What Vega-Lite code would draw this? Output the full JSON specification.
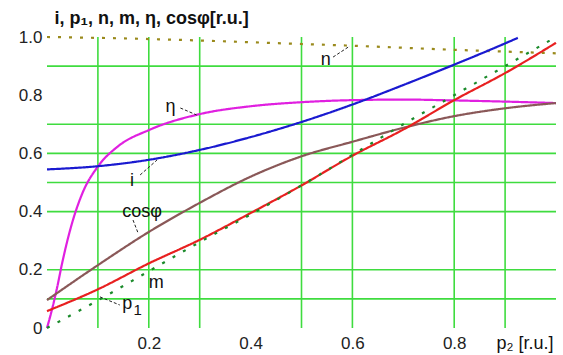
{
  "$schema": "https://vega.github.io/schema/vega-lite/v6.json",
  "width": 509,
  "height": 291,
  "autosize": "none",
  "padding": {"left": 47, "top": 37, "right": 7, "bottom": 27},
  "background": "white",
  "config": {"view": {"stroke": null}, "font": "Liberation Sans"},
  "datasets": {
    "gridv": [{"v": 0.1}, {"v": 0.2}, {"v": 0.3}, {"v": 0.5}, {"v": 0.6}, {"v": 0.8}, {"v": 0.9}],
    "gridh": [{"v": 0.1}, {"v": 0.2}, {"v": 0.4}, {"v": 0.5}, {"v": 0.6}, {"v": 0.7}, {"v": 0.9}],
    "curves": [
      {"s": "n", "x": 0, "y": 1.0}, {"s": "n", "x": 0.1, "y": 0.997}, {"s": "n", "x": 0.2, "y": 0.993}, {"s": "n", "x": 0.3, "y": 0.988}, {"s": "n", "x": 0.4, "y": 0.982}, {"s": "n", "x": 0.5, "y": 0.976}, {"s": "n", "x": 0.6, "y": 0.97}, {"s": "n", "x": 0.7, "y": 0.963}, {"s": "n", "x": 0.8, "y": 0.956}, {"s": "n", "x": 0.9, "y": 0.95}, {"s": "n", "x": 1.0, "y": 0.944},
      {"s": "eta", "x": 0, "y": 0.0}, {"s": "eta", "x": 0.01, "y": 0.065}, {"s": "eta", "x": 0.02, "y": 0.14}, {"s": "eta", "x": 0.03, "y": 0.225}, {"s": "eta", "x": 0.04, "y": 0.3}, {"s": "eta", "x": 0.05, "y": 0.365}, {"s": "eta", "x": 0.07, "y": 0.465}, {"s": "eta", "x": 0.1, "y": 0.555}, {"s": "eta", "x": 0.14, "y": 0.625}, {"s": "eta", "x": 0.2, "y": 0.68}, {"s": "eta", "x": 0.3, "y": 0.735}, {"s": "eta", "x": 0.4, "y": 0.762}, {"s": "eta", "x": 0.5, "y": 0.776}, {"s": "eta", "x": 0.6, "y": 0.783}, {"s": "eta", "x": 0.7, "y": 0.785}, {"s": "eta", "x": 0.8, "y": 0.782}, {"s": "eta", "x": 0.9, "y": 0.778}, {"s": "eta", "x": 1.0, "y": 0.773},
      {"s": "i", "x": 0, "y": 0.545}, {"s": "i", "x": 0.1, "y": 0.556}, {"s": "i", "x": 0.2, "y": 0.578}, {"s": "i", "x": 0.3, "y": 0.612}, {"s": "i", "x": 0.4, "y": 0.656}, {"s": "i", "x": 0.5, "y": 0.708}, {"s": "i", "x": 0.6, "y": 0.768}, {"s": "i", "x": 0.7, "y": 0.835}, {"s": "i", "x": 0.8, "y": 0.905}, {"s": "i", "x": 0.9, "y": 0.978}, {"s": "i", "x": 0.925, "y": 0.997},
      {"s": "cos", "x": 0, "y": 0.096}, {"s": "cos", "x": 0.1, "y": 0.216}, {"s": "cos", "x": 0.2, "y": 0.33}, {"s": "cos", "x": 0.3, "y": 0.43}, {"s": "cos", "x": 0.4, "y": 0.52}, {"s": "cos", "x": 0.5, "y": 0.59}, {"s": "cos", "x": 0.6, "y": 0.64}, {"s": "cos", "x": 0.7, "y": 0.688}, {"s": "cos", "x": 0.8, "y": 0.728}, {"s": "cos", "x": 0.9, "y": 0.755}, {"s": "cos", "x": 1.0, "y": 0.773},
      {"s": "p1", "x": 0, "y": 0.058}, {"s": "p1", "x": 0.1, "y": 0.133}, {"s": "p1", "x": 0.2, "y": 0.222}, {"s": "p1", "x": 0.3, "y": 0.303}, {"s": "p1", "x": 0.4, "y": 0.395}, {"s": "p1", "x": 0.5, "y": 0.49}, {"s": "p1", "x": 0.6, "y": 0.592}, {"s": "p1", "x": 0.7, "y": 0.682}, {"s": "p1", "x": 0.8, "y": 0.783}, {"s": "p1", "x": 0.9, "y": 0.876}, {"s": "p1", "x": 1.0, "y": 0.98},
      {"s": "m", "x": 0, "y": 0.0}, {"s": "m", "x": 0.1, "y": 0.095}, {"s": "m", "x": 0.2, "y": 0.195}, {"s": "m", "x": 0.3, "y": 0.295}, {"s": "m", "x": 0.4, "y": 0.39}, {"s": "m", "x": 0.5, "y": 0.49}, {"s": "m", "x": 0.6, "y": 0.595}, {"s": "m", "x": 0.7, "y": 0.7}, {"s": "m", "x": 0.8, "y": 0.8}, {"s": "m", "x": 0.9, "y": 0.9}, {"s": "m", "x": 1.0, "y": 1.0}
    ],
    "leaders": [
      {"s": "eta", "x": 0.262, "y": 0.756, "x2": 0.294, "y2": 0.732},
      {"s": "n", "x": 0.562, "y": 0.931, "x2": 0.595, "y2": 0.969},
      {"s": "i", "x": 0.183, "y": 0.526, "x2": 0.216, "y2": 0.577},
      {"s": "cos", "x": 0.169, "y": 0.371, "x2": 0.179, "y2": 0.326},
      {"s": "p1", "x": 0.104, "y": 0.107, "x2": 0.143, "y2": 0.079}
    ],
    "labels": [
      {"t": "η", "x": 0.233, "y": 0.76, "w": "normal", "f": 18},
      {"t": "n", "x": 0.538, "y": 0.92, "w": "normal", "f": 18},
      {"t": "i", "x": 0.163, "y": 0.505, "w": "bold", "f": 18},
      {"t": "cosφ", "x": 0.148, "y": 0.399, "w": "bold", "f": 18},
      {"t": "m", "x": 0.2, "y": 0.155, "w": "normal", "f": 18},
      {"t": "p", "x": 0.148, "y": 0.082, "w": "bold", "f": 18},
      {"t": "1", "x": 0.17, "y": 0.062, "w": "bold", "f": 15}
    ]
  },
  "layer": [
    {
      "data": {"name": "gridv"},
      "mark": {"type": "rule", "color": "#3fdc3f", "strokeWidth": 1.6},
      "encoding": {
        "x": {
          "field": "v", "type": "quantitative",
          "scale": {"domain": [0, 1], "nice": false, "zero": false},
          "axis": {
            "values": [0.2, 0.4, 0.6, 0.8], "domain": false, "ticks": false, "grid": false,
            "labelFontSize": 17, "labelPadding": 7, "labelColor": "#222", "labelFlush": false,
            "title": "p₂ [r.u.]", "titleX": 449, "titleY": 20, "titleAlign": "left",
            "titleBaseline": "alphabetic", "titleFontSize": 18, "titleFontWeight": "normal", "titleColor": "#111"
          }
        }
      }
    },
    {
      "data": {"name": "gridh"},
      "mark": {"type": "rule", "color": "#3fdc3f", "strokeWidth": 1.6},
      "encoding": {
        "y": {
          "field": "v", "type": "quantitative",
          "scale": {"domain": [0, 1], "nice": false, "zero": false},
          "axis": {
            "values": [0, 0.2, 0.4, 0.6, 0.8, 1],
            "labelExpr": "datum.value == 0 ? '0' : format(datum.value, '.1f')",
            "domain": false, "ticks": false, "grid": false,
            "labelFontSize": 17, "labelPadding": 5, "labelColor": "#222",
            "title": "i, p₁, n, m, η, cosφ[r.u.]", "titleAngle": 0, "titleX": 7, "titleY": -14,
            "titleAlign": "left", "titleBaseline": "alphabetic", "titleFontSize": 18,
            "titleFontWeight": "bold", "titleColor": "#111"
          }
        }
      }
    },
    {
      "mark": {"type": "rule", "color": "#111", "strokeWidth": 1.5},
      "encoding": {"y": {"datum": 1}, "x": {"datum": 0}, "x2": {"datum": 1.0}}
    },
    {
      "mark": {"type": "rule", "color": "#111", "strokeWidth": 2},
      "encoding": {"x": {"datum": 0}, "y": {"datum": 0}, "y2": {"datum": 1.06}}
    },
    {
      "mark": {"type": "rule", "color": "#333", "strokeWidth": 1.5},
      "encoding": {"y": {"datum": 0}, "x": {"datum": 0}, "x2": {"datum": 1.0}}
    },
    {
      "mark": {"type": "point", "shape": "triangle-up", "filled": true, "color": "#111", "size": 40, "opacity": 1},
      "encoding": {"x": {"datum": 0}, "y": {"datum": 1.065}}
    },
    {
      "mark": {"type": "point", "shape": "triangle-right", "filled": true, "color": "#111", "size": 40, "opacity": 1},
      "encoding": {"x": {"datum": 0.995}, "y": {"datum": 0}}
    },
    {
      "data": {"name": "curves"},
      "mark": {"type": "line", "interpolate": "monotone", "strokeWidth": 2.2},
      "encoding": {
        "x": {"field": "x", "type": "quantitative"},
        "y": {"field": "y", "type": "quantitative"},
        "detail": {"field": "s"},
        "color": {
          "field": "s", "type": "nominal", "legend": null,
          "scale": {"domain": ["n", "eta", "i", "cos", "p1", "m"], "range": ["#9a8a1c", "#e020e0", "#1a1ad0", "#8a5858", "#e82020", "#1a8a2a"]}
        },
        "strokeDash": {
          "field": "s", "type": "nominal", "legend": null,
          "scale": {"domain": ["n", "eta", "i", "cos", "p1", "m"], "range": [[3, 8], [1, 0], [1, 0], [1, 0], [1, 0], [3, 9]]}
        },
        "strokeWidth": {
          "field": "s", "type": "nominal", "legend": null,
          "scale": {"domain": ["n", "eta", "i", "cos", "p1", "m"], "range": [3, 2.2, 2.2, 2, 2, 3]}
        }
      }
    },
    {
      "data": {"name": "leaders"},
      "mark": {"type": "rule", "color": "#222", "strokeWidth": 1, "strokeDash": [3, 2]},
      "encoding": {
        "x": {"field": "x", "type": "quantitative"},
        "y": {"field": "y", "type": "quantitative"},
        "x2": {"field": "x2"},
        "y2": {"field": "y2"}
      }
    },
    {
      "mark": {"type": "rule", "color": "#222", "strokeWidth": 1.2},
      "encoding": {"x": {"datum": 0.159}, "x2": {"datum": 0.19}, "y": {"datum": 0.158}}
    },
    {
      "mark": {"type": "rule", "color": "#222", "strokeWidth": 1.2},
      "encoding": {"x": {"datum": 0.159}, "y": {"datum": 0.158}, "y2": {"datum": 0.175}}
    },
    {
      "data": {"name": "labels"},
      "mark": {"type": "text", "align": "left", "baseline": "middle", "color": "#111"},
      "encoding": {
        "x": {"field": "x", "type": "quantitative"},
        "y": {"field": "y", "type": "quantitative"},
        "text": {"field": "t"},
        "fontWeight": {"field": "w", "type": "nominal", "scale": null},
        "size": {"field": "f", "type": "quantitative", "scale": null}
      }
    }
  ]
}
